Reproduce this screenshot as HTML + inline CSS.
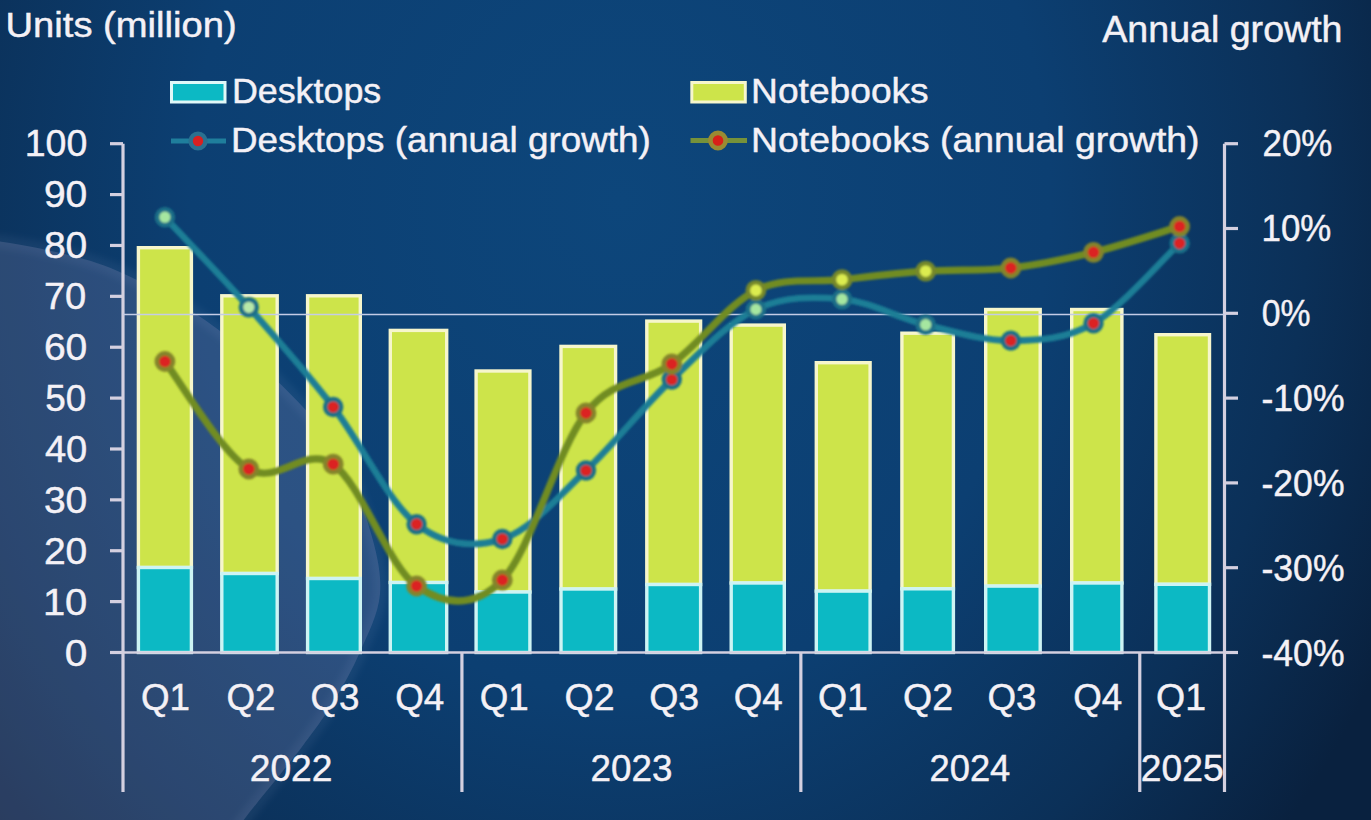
<!DOCTYPE html><html><head><meta charset="utf-8"><style>html,body{margin:0;padding:0;background:#0b2f5a;overflow:hidden}svg{display:block}</style></head><body>
<svg width="1371" height="820" viewBox="0 0 1371 820">
<defs>
<radialGradient id="bg" cx="620" cy="200" r="860" gradientUnits="userSpaceOnUse" gradientTransform="translate(620 200) scale(1 1.15) translate(-620 -200)">
<stop offset="0" stop-color="#0d467b"/>
<stop offset="0.5" stop-color="#0c3f72"/>
<stop offset="0.8" stop-color="#0b3058"/>
<stop offset="1" stop-color="#09213f"/>
</radialGradient>
<radialGradient id="ov" cx="-176" cy="580" r="548" gradientUnits="userSpaceOnUse" gradientTransform="translate(-176 580) scale(1 0.655) translate(176 -580)">
<stop offset="0" stop-color="#6a86b8" stop-opacity="0.22"/>
<stop offset="0.85" stop-color="#6a86b8" stop-opacity="0.30"/>
<stop offset="1" stop-color="#7a96c8" stop-opacity="0.36"/>
</radialGradient>
<filter id="soft" x="-20%" y="-20%" width="140%" height="140%"><feGaussianBlur stdDeviation="3"/></filter>
<filter id="glow" x="-50%" y="-50%" width="200%" height="200%"><feGaussianBlur stdDeviation="0.8"/></filter>
</defs>
<rect width="1371" height="820" fill="url(#bg)"/>
<path d="M-40.00,236.00 C-26.83,238.05 12.83,242.52 39.00,248.30 C65.17,254.08 89.33,258.75 117.00,270.70 C144.67,282.65 177.50,300.85 205.00,320.00 C232.50,339.15 259.83,363.60 282.00,385.60 C304.17,407.60 323.33,427.93 338.00,452.00 C352.67,476.07 363.00,506.33 370.00,530.00 C377.00,553.67 381.67,573.67 380.00,594.00 C378.33,614.33 367.67,634.17 360.00,652.00 C352.33,669.83 343.50,685.43 334.00,701.00 C324.50,716.57 318.05,725.57 303.00,745.40 C287.95,765.23 258.37,800.90 243.70,820.00 C229.03,839.10 219.78,853.33 215.00,860.00 L-40,860 Z" fill="#a49cc8" fill-opacity="0.21"/>
<path d="M-40.00,236.00 C-26.83,238.05 12.83,242.52 39.00,248.30 C65.17,254.08 89.33,258.75 117.00,270.70 C144.67,282.65 177.50,300.85 205.00,320.00 C232.50,339.15 259.83,363.60 282.00,385.60 C304.17,407.60 323.33,427.93 338.00,452.00 C352.67,476.07 363.00,506.33 370.00,530.00 C377.00,553.67 381.67,573.67 380.00,594.00 C378.33,614.33 367.67,634.17 360.00,652.00 C352.33,669.83 343.50,685.43 334.00,701.00 C324.50,716.57 318.05,725.57 303.00,745.40 C287.95,765.23 258.37,800.90 243.70,820.00 C229.03,839.10 219.78,853.33 215.00,860.00" fill="none" stroke="#b0bce0" stroke-opacity="0.07" stroke-width="14" filter="url(#soft)"/>
<rect x="138.40" y="247.70" width="53.00" height="319.80" fill="#cde44a" stroke="#f6f6cc" stroke-width="3.4"/>
<rect x="138.40" y="567.50" width="53.00" height="85.00" fill="#0cb9c4" stroke="#cdf4f4" stroke-width="3.4"/>
<rect x="221.80" y="295.80" width="55.40" height="277.70" fill="#cde44a" stroke="#f6f6cc" stroke-width="3.4"/>
<rect x="221.80" y="573.50" width="55.40" height="79.00" fill="#0cb9c4" stroke="#cdf4f4" stroke-width="3.4"/>
<rect x="307.60" y="295.80" width="52.70" height="282.70" fill="#cde44a" stroke="#f6f6cc" stroke-width="3.4"/>
<rect x="307.60" y="578.50" width="52.70" height="74.00" fill="#0cb9c4" stroke="#cdf4f4" stroke-width="3.4"/>
<rect x="390.30" y="330.40" width="56.40" height="252.10" fill="#cde44a" stroke="#f6f6cc" stroke-width="3.4"/>
<rect x="390.30" y="582.50" width="56.40" height="70.00" fill="#0cb9c4" stroke="#cdf4f4" stroke-width="3.4"/>
<rect x="476.10" y="371.00" width="53.80" height="221.00" fill="#cde44a" stroke="#f6f6cc" stroke-width="3.4"/>
<rect x="476.10" y="592.00" width="53.80" height="60.50" fill="#0cb9c4" stroke="#cdf4f4" stroke-width="3.4"/>
<rect x="561.00" y="346.40" width="54.60" height="242.60" fill="#cde44a" stroke="#f6f6cc" stroke-width="3.4"/>
<rect x="561.00" y="589.00" width="54.60" height="63.50" fill="#0cb9c4" stroke="#cdf4f4" stroke-width="3.4"/>
<rect x="646.80" y="321.10" width="53.80" height="263.40" fill="#cde44a" stroke="#f6f6cc" stroke-width="3.4"/>
<rect x="646.80" y="584.50" width="53.80" height="68.00" fill="#0cb9c4" stroke="#cdf4f4" stroke-width="3.4"/>
<rect x="731.20" y="325.10" width="53.10" height="257.90" fill="#cde44a" stroke="#f6f6cc" stroke-width="3.4"/>
<rect x="731.20" y="583.00" width="53.10" height="69.50" fill="#0cb9c4" stroke="#cdf4f4" stroke-width="3.4"/>
<rect x="816.30" y="362.70" width="53.80" height="228.40" fill="#cde44a" stroke="#f6f6cc" stroke-width="3.4"/>
<rect x="816.30" y="591.10" width="53.80" height="61.40" fill="#0cb9c4" stroke="#cdf4f4" stroke-width="3.4"/>
<rect x="901.90" y="333.20" width="51.50" height="255.60" fill="#cde44a" stroke="#f6f6cc" stroke-width="3.4"/>
<rect x="901.90" y="588.80" width="51.50" height="63.70" fill="#0cb9c4" stroke="#cdf4f4" stroke-width="3.4"/>
<rect x="985.70" y="309.50" width="54.50" height="276.60" fill="#cde44a" stroke="#f6f6cc" stroke-width="3.4"/>
<rect x="985.70" y="586.10" width="54.50" height="66.40" fill="#0cb9c4" stroke="#cdf4f4" stroke-width="3.4"/>
<rect x="1071.70" y="309.50" width="50.20" height="273.50" fill="#cde44a" stroke="#f6f6cc" stroke-width="3.4"/>
<rect x="1071.70" y="583.00" width="50.20" height="69.50" fill="#0cb9c4" stroke="#cdf4f4" stroke-width="3.4"/>
<rect x="1155.90" y="334.70" width="53.60" height="249.60" fill="#cde44a" stroke="#f6f6cc" stroke-width="3.4"/>
<rect x="1155.90" y="584.30" width="53.60" height="68.20" fill="#0cb9c4" stroke="#cdf4f4" stroke-width="3.4"/>
<g stroke="#d4d0e0" stroke-width="3.2" fill="none">
<line x1="123.0" y1="143.7" x2="123.0" y2="792"/>
<line x1="1224.5" y1="143.7" x2="1224.5" y2="792"/>
<line x1="110" y1="652.50" x2="123.0" y2="652.50"/>
<line x1="110" y1="601.62" x2="123.0" y2="601.62"/>
<line x1="110" y1="550.74" x2="123.0" y2="550.74"/>
<line x1="110" y1="499.86" x2="123.0" y2="499.86"/>
<line x1="110" y1="448.98" x2="123.0" y2="448.98"/>
<line x1="110" y1="398.10" x2="123.0" y2="398.10"/>
<line x1="110" y1="347.22" x2="123.0" y2="347.22"/>
<line x1="110" y1="296.34" x2="123.0" y2="296.34"/>
<line x1="110" y1="245.46" x2="123.0" y2="245.46"/>
<line x1="110" y1="194.58" x2="123.0" y2="194.58"/>
<line x1="110" y1="143.70" x2="123.0" y2="143.70"/>
<line x1="1224.5" y1="143.70" x2="1238" y2="143.70"/>
<line x1="1224.5" y1="228.50" x2="1238" y2="228.50"/>
<line x1="1224.5" y1="313.30" x2="1238" y2="313.30"/>
<line x1="1224.5" y1="398.10" x2="1238" y2="398.10"/>
<line x1="1224.5" y1="482.90" x2="1238" y2="482.90"/>
<line x1="1224.5" y1="567.70" x2="1238" y2="567.70"/>
<line x1="1224.5" y1="652.50" x2="1238" y2="652.50"/>
<line x1="110.0" y1="652.50" x2="1238.0" y2="652.50" stroke-width="2.6"/>
<line x1="461.92" y1="652.50" x2="461.92" y2="792"/>
<line x1="800.85" y1="652.50" x2="800.85" y2="792"/>
<line x1="1139.77" y1="652.50" x2="1139.77" y2="792"/>
</g>
<line x1="123.0" y1="314.5" x2="1224.5" y2="314.5" stroke="#c4cce6" stroke-width="1.7"/>
<g filter="url(#glow)">
<path d="M164.90,217.20 C178.88,232.22 220.75,275.67 248.80,307.30 C276.85,338.93 305.23,370.85 333.20,407.00 C361.17,443.15 388.42,502.20 416.60,524.20 C444.78,546.20 474.07,547.95 502.30,539.00 C530.53,530.05 557.75,497.08 586.00,470.50 C614.25,443.92 643.48,406.35 671.80,379.50 C700.12,352.65 727.53,322.78 755.90,309.40 C784.27,296.02 813.70,296.65 842.00,299.20 C870.30,301.75 897.57,317.80 925.70,324.70 C953.83,331.60 982.83,340.83 1010.80,340.60 C1038.77,340.37 1065.37,339.52 1093.50,323.30 C1121.63,307.08 1165.25,256.63 1179.60,243.30" fill="none" stroke="#1a7e96" stroke-width="6.6" stroke-linecap="round"/>
<circle cx="164.90" cy="217.20" r="7.9" fill="#a6e6a0" stroke="#1b7088" stroke-width="4.6"/>
<circle cx="248.80" cy="307.30" r="7.9" fill="#b8e8a8" stroke="#1b7088" stroke-width="4.6"/>
<circle cx="333.20" cy="407.00" r="7.9" fill="#dc2020" stroke="#1b7088" stroke-width="4.6"/>
<circle cx="416.60" cy="524.20" r="7.9" fill="#dc2020" stroke="#1b7088" stroke-width="4.6"/>
<circle cx="502.30" cy="539.00" r="7.9" fill="#dc2020" stroke="#1b7088" stroke-width="4.6"/>
<circle cx="586.00" cy="470.50" r="7.9" fill="#dc2020" stroke="#1b7088" stroke-width="4.6"/>
<circle cx="671.80" cy="379.50" r="7.9" fill="#dc2020" stroke="#1b7088" stroke-width="4.6"/>
<circle cx="755.90" cy="309.40" r="7.9" fill="#a6e6a0" stroke="#1b7088" stroke-width="4.6"/>
<circle cx="842.00" cy="299.20" r="7.9" fill="#a6e6a0" stroke="#1b7088" stroke-width="4.6"/>
<circle cx="925.70" cy="324.70" r="7.9" fill="#a6e6a0" stroke="#1b7088" stroke-width="4.6"/>
<circle cx="1010.80" cy="340.60" r="7.9" fill="#dc2020" stroke="#1b7088" stroke-width="4.6"/>
<circle cx="1093.50" cy="323.30" r="7.9" fill="#dc2020" stroke="#1b7088" stroke-width="4.6"/>
<circle cx="1179.60" cy="243.30" r="7.9" fill="#dc2020" stroke="#1b7088" stroke-width="4.6"/>
<path d="M164.90,361.50 C178.88,379.42 220.75,451.88 248.80,469.00 C276.85,486.12 305.23,444.70 333.20,464.20 C361.17,483.70 388.42,566.70 416.60,586.00 C444.78,605.30 474.07,608.83 502.30,580.00 C530.53,551.17 557.75,449.00 586.00,413.00 C614.25,377.00 643.48,384.43 671.80,364.00 C700.12,343.57 727.53,304.45 755.90,290.40 C784.27,276.35 813.70,282.90 842.00,279.70 C870.30,276.50 897.57,273.15 925.70,271.20 C953.83,269.25 982.83,271.15 1010.80,268.00 C1038.77,264.85 1065.37,259.22 1093.50,252.30 C1121.63,245.38 1165.25,230.80 1179.60,226.50" fill="none" stroke="#718c24" stroke-width="7.2" stroke-linecap="round"/>
<circle cx="164.90" cy="361.50" r="8.1" fill="#dc2020" stroke="#84842a" stroke-width="4.6"/>
<circle cx="248.80" cy="469.00" r="8.1" fill="#dc2020" stroke="#84842a" stroke-width="4.6"/>
<circle cx="333.20" cy="464.20" r="8.1" fill="#dc2020" stroke="#84842a" stroke-width="4.6"/>
<circle cx="416.60" cy="586.00" r="8.1" fill="#dc2020" stroke="#84842a" stroke-width="4.6"/>
<circle cx="502.30" cy="580.00" r="8.1" fill="#dc2020" stroke="#84842a" stroke-width="4.6"/>
<circle cx="586.00" cy="413.00" r="8.1" fill="#dc2020" stroke="#84842a" stroke-width="4.6"/>
<circle cx="671.80" cy="364.00" r="8.1" fill="#dc2020" stroke="#84842a" stroke-width="4.6"/>
<circle cx="755.90" cy="290.40" r="8.1" fill="#dcec50" stroke="#76882a" stroke-width="4.6"/>
<circle cx="842.00" cy="279.70" r="8.1" fill="#dcec50" stroke="#76882a" stroke-width="4.6"/>
<circle cx="925.70" cy="271.20" r="8.1" fill="#dcec50" stroke="#76882a" stroke-width="4.6"/>
<circle cx="1010.80" cy="268.00" r="8.1" fill="#dc2020" stroke="#84842a" stroke-width="4.6"/>
<circle cx="1093.50" cy="252.30" r="8.1" fill="#dc2020" stroke="#84842a" stroke-width="4.6"/>
<circle cx="1179.60" cy="226.50" r="8.1" fill="#dc2020" stroke="#84842a" stroke-width="4.6"/>
</g>
<g font-family='&quot;Liberation Sans&quot;, sans-serif' fill="#f4f1f6" stroke="#f4f1f6" stroke-width="0.45">
<text x="5.50" y="37.00" font-size="35.0" text-anchor="start" textLength="231.2" lengthAdjust="spacingAndGlyphs">Units (million)</text>
<text x="1102.30" y="42.00" font-size="36.0" text-anchor="start" textLength="240.2" lengthAdjust="spacingAndGlyphs">Annual growth</text>
<text x="231.90" y="103.40" font-size="35.0" text-anchor="start" textLength="149.4" lengthAdjust="spacingAndGlyphs">Desktops</text>
<text x="751.10" y="103.10" font-size="35.0" text-anchor="start" textLength="177.6" lengthAdjust="spacingAndGlyphs">Notebooks</text>
<text x="230.90" y="152.00" font-size="35.0" text-anchor="start" textLength="420.0" lengthAdjust="spacingAndGlyphs">Desktops (annual growth)</text>
<text x="751.10" y="152.20" font-size="35.0" text-anchor="start" textLength="448.4" lengthAdjust="spacingAndGlyphs">Notebooks (annual growth)</text>
<text x="64.70" y="665.70" font-size="37.0" text-anchor="start" textLength="22.6" lengthAdjust="spacingAndGlyphs">0</text>
<text x="42.90" y="614.70" font-size="37.0" text-anchor="start" textLength="44.4" lengthAdjust="spacingAndGlyphs">10</text>
<text x="43.90" y="563.70" font-size="37.0" text-anchor="start" textLength="43.4" lengthAdjust="spacingAndGlyphs">20</text>
<text x="43.90" y="512.70" font-size="37.0" text-anchor="start" textLength="43.4" lengthAdjust="spacingAndGlyphs">30</text>
<text x="44.90" y="461.70" font-size="37.0" text-anchor="start" textLength="42.4" lengthAdjust="spacingAndGlyphs">40</text>
<text x="45.30" y="410.70" font-size="37.0" text-anchor="start" textLength="41.0" lengthAdjust="spacingAndGlyphs">50</text>
<text x="43.90" y="359.70" font-size="37.0" text-anchor="start" textLength="43.4" lengthAdjust="spacingAndGlyphs">60</text>
<text x="43.90" y="308.70" font-size="37.0" text-anchor="start" textLength="42.4" lengthAdjust="spacingAndGlyphs">70</text>
<text x="43.90" y="257.70" font-size="37.0" text-anchor="start" textLength="43.4" lengthAdjust="spacingAndGlyphs">80</text>
<text x="43.90" y="206.70" font-size="37.0" text-anchor="start" textLength="43.4" lengthAdjust="spacingAndGlyphs">90</text>
<text x="24.70" y="155.70" font-size="37.0" text-anchor="start" textLength="62.6" lengthAdjust="spacingAndGlyphs">100</text>
<text x="1262.50" y="155.70" font-size="37.0" text-anchor="start" textLength="69.8" lengthAdjust="spacingAndGlyphs">20%</text>
<text x="1261.50" y="240.70" font-size="37.0" text-anchor="start" textLength="69.8" lengthAdjust="spacingAndGlyphs">10%</text>
<text x="1261.70" y="325.70" font-size="37.0" text-anchor="start" textLength="48.8" lengthAdjust="spacingAndGlyphs">0%</text>
<text x="1261.50" y="410.70" font-size="37.0" text-anchor="start" textLength="83.0" lengthAdjust="spacingAndGlyphs">-10%</text>
<text x="1261.50" y="495.70" font-size="37.0" text-anchor="start" textLength="83.0" lengthAdjust="spacingAndGlyphs">-20%</text>
<text x="1261.50" y="580.70" font-size="37.0" text-anchor="start" textLength="83.0" lengthAdjust="spacingAndGlyphs">-30%</text>
<text x="1261.50" y="665.70" font-size="37.0" text-anchor="start" textLength="83.0" lengthAdjust="spacingAndGlyphs">-40%</text>
<text x="141.00" y="709.60" font-size="37.0" text-anchor="start" textLength="49.0" lengthAdjust="spacingAndGlyphs">Q1</text>
<text x="226.50" y="709.60" font-size="37.0" text-anchor="start" textLength="49.0" lengthAdjust="spacingAndGlyphs">Q2</text>
<text x="310.50" y="709.60" font-size="37.0" text-anchor="start" textLength="49.0" lengthAdjust="spacingAndGlyphs">Q3</text>
<text x="395.30" y="709.60" font-size="37.0" text-anchor="start" textLength="49.0" lengthAdjust="spacingAndGlyphs">Q4</text>
<text x="479.70" y="709.60" font-size="37.0" text-anchor="start" textLength="49.0" lengthAdjust="spacingAndGlyphs">Q1</text>
<text x="564.60" y="709.60" font-size="37.0" text-anchor="start" textLength="50.0" lengthAdjust="spacingAndGlyphs">Q2</text>
<text x="649.20" y="709.60" font-size="37.0" text-anchor="start" textLength="50.0" lengthAdjust="spacingAndGlyphs">Q3</text>
<text x="733.80" y="709.60" font-size="37.0" text-anchor="start" textLength="49.0" lengthAdjust="spacingAndGlyphs">Q4</text>
<text x="817.90" y="709.60" font-size="37.0" text-anchor="start" textLength="50.0" lengthAdjust="spacingAndGlyphs">Q1</text>
<text x="903.00" y="709.60" font-size="37.0" text-anchor="start" textLength="50.0" lengthAdjust="spacingAndGlyphs">Q2</text>
<text x="987.50" y="709.60" font-size="37.0" text-anchor="start" textLength="49.0" lengthAdjust="spacingAndGlyphs">Q3</text>
<text x="1073.30" y="709.60" font-size="37.0" text-anchor="start" textLength="49.0" lengthAdjust="spacingAndGlyphs">Q4</text>
<text x="1156.00" y="709.60" font-size="37.0" text-anchor="start" textLength="50.0" lengthAdjust="spacingAndGlyphs">Q1</text>
<text x="249.70" y="780.50" font-size="37.0" text-anchor="start" textLength="82.8" lengthAdjust="spacingAndGlyphs">2022</text>
<text x="590.60" y="780.50" font-size="37.0" text-anchor="start" textLength="81.8" lengthAdjust="spacingAndGlyphs">2023</text>
<text x="929.50" y="780.50" font-size="37.0" text-anchor="start" textLength="80.8" lengthAdjust="spacingAndGlyphs">2024</text>
<text x="1140.80" y="780.50" font-size="37.0" text-anchor="start" textLength="82.8" lengthAdjust="spacingAndGlyphs">2025</text>
</g>
<rect x="171.5" y="82.5" width="53.5" height="19.5" fill="#0cb9c4" stroke="#e0f8f8" stroke-width="3"/>
<rect x="691.8" y="82.5" width="53.5" height="19.5" fill="#cde44a" stroke="#f6f6cc" stroke-width="3"/>
<line x1="171" y1="141" x2="226" y2="141" stroke="#1f7e9c" stroke-width="5"/>
<circle cx="198" cy="141" r="7.4" fill="#d82020" stroke="#2a7090" stroke-width="4.4"/>
<line x1="690.5" y1="140.5" x2="747" y2="140.5" stroke="#76923a" stroke-width="5"/>
<circle cx="718" cy="140.5" r="7.6" fill="#d82018" stroke="#9a8a32" stroke-width="4.6"/>
</svg></body></html>
